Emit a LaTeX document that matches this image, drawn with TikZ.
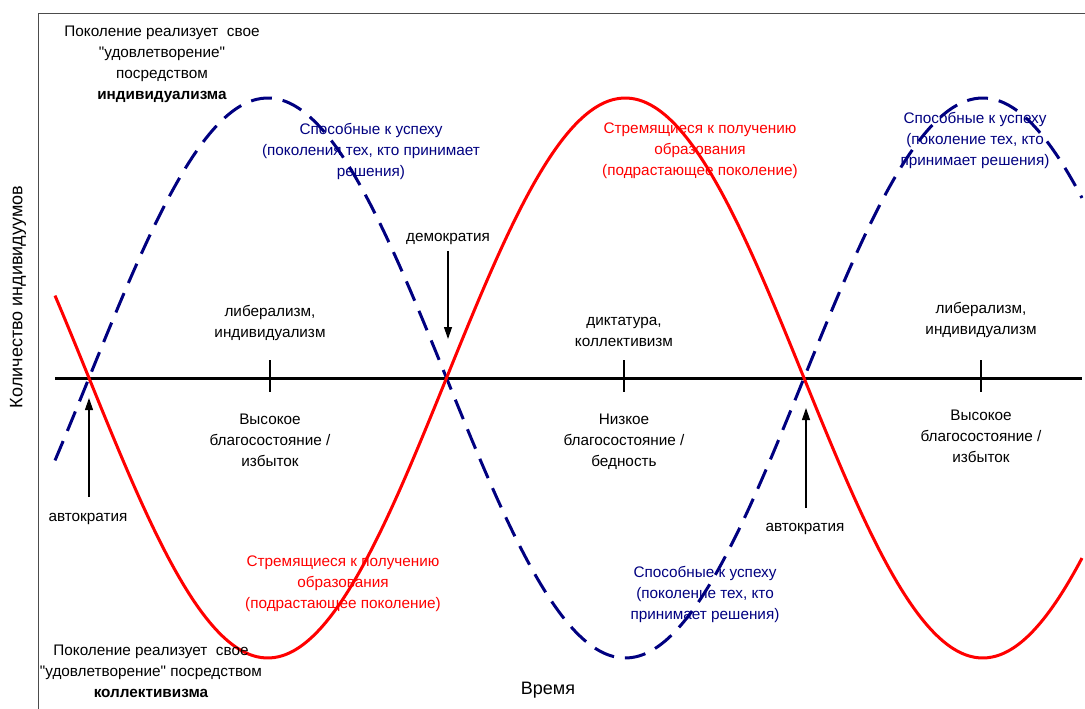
\documentclass[tikz,border=0pt]{standalone}
\usepackage{fontspec}
\setmainfont{Liberation Sans}[Ligatures=TeXOff]
\usetikzlibrary{arrows.meta}

\definecolor{navyline}{RGB}{0,0,128}

\tikzset{
	txt/.style={font=\fontsize{15.3}{21}\selectfont, align=center, inner sep=0pt},
	axistitle/.style={font=\fontsize{18}{22}\selectfont, inner sep=0pt},
	redtxt/.style={txt, text=red},
	bluetxt/.style={txt, text=navyline},
	pointer/.style={-{Triangle[length=12pt,width=8pt]}, line width=1.2pt},
	axistick/.style={line width=1.5pt},
	wave/.style={line width=3pt, domain=55:1082, samples=240, smooth, variable=\x}
}

\begin{document}
\begin{tikzpicture}[x=1pt,y=-1pt]
		\useasboundingbox (0,0) rectangle (1085,709);
		\draw[gray!60!black, line width=1pt] (38,709) -- (38,14) -- (1085,14);

		\draw[line width=3pt] (55,378) -- (1082,378);
		\draw[axistick] (270,360) -- (270,392);
		\draw[axistick] (624,360) -- (624,392);
		\draw[axistick] (981,360) -- (981,392);

		\draw[wave, navyline, dash pattern=on 21pt off 11pt] plot ({\x},{378-280*sin((\x-89)*0.503497)});
		\draw[wave, red] plot ({\x},{378+280*sin((\x-89)*0.503497)});

		\node[txt] (genIndiv) at (162,64) {Поколение реализует\ \ свое\\"удовлетворение"\\посредством\\\textbf{индивидуализма}};
		\node[txt] (genCollect) at (151,671) {Поколение реализует\ \ свое\\"удовлетворение" посредством\\\textbf{коллективизма}};
		\node[axistitle, rotate=90] (yLabel) at (18,297) {Количество индивидуумов};
		\node[axistitle] (xLabel) at (548,690) {Время};

		\node[bluetxt] (ableA) at (371,151) {Способные к успеху\\(поколения тех, кто принимает\\решения)};
		\node[redtxt] (eduA) at (700,151) {Стремящиеся к получению\\образования\\(подрастающее поколение)};
		\node[bluetxt] (ableB) at (975,140) {Способные к успеху\\(поколение тех, кто\\принимает решения)};
		\node[redtxt] (eduB) at (343,584) {Стремящиеся к получению\\образования\\(подрастающее поколение)};
		\node[bluetxt] (ableC) at (705,594) {Способные к успеху\\(поколение тех, кто\\принимает решения)};

		\node[txt] (liberalA) at (270,323) {либерализм,\\индивидуализм};
		\node[txt] (dictat) at (624,332) {диктатура,\\коллективизм};
		\node[txt] (liberalB) at (981,320) {либерализм,\\индивидуализм};
		\node[txt] (richA) at (270,440) {Высокое\\благосостояние /\\избыток};
		\node[txt] (poor) at (624,442) {Низкое\\благосостояние /\\бедность};
		\node[txt] (richB) at (981,436) {Высокое\\благосостояние /\\избыток};

		\node[txt] (demo) at (448,239) {демократия};
		\node[txt] (autoA) at (88,519) {автократия};
		\node[txt] (autoB) at (805,529) {автократия};
		\coordinate (demoTip) at (448,339);
		\coordinate (autoATip) at (89,398);
		\coordinate (autoBTip) at (806,408);

		\draw[pointer, shorten <=6pt] (demo.south -| demoTip) -- (demoTip);
		\draw[pointer, shorten <=16pt] (autoA.north -| autoATip) -- (autoATip);
		\draw[pointer, shorten <=15pt] (autoB.north -| autoBTip) -- (autoBTip);
	\end{tikzpicture}
\end{document}
